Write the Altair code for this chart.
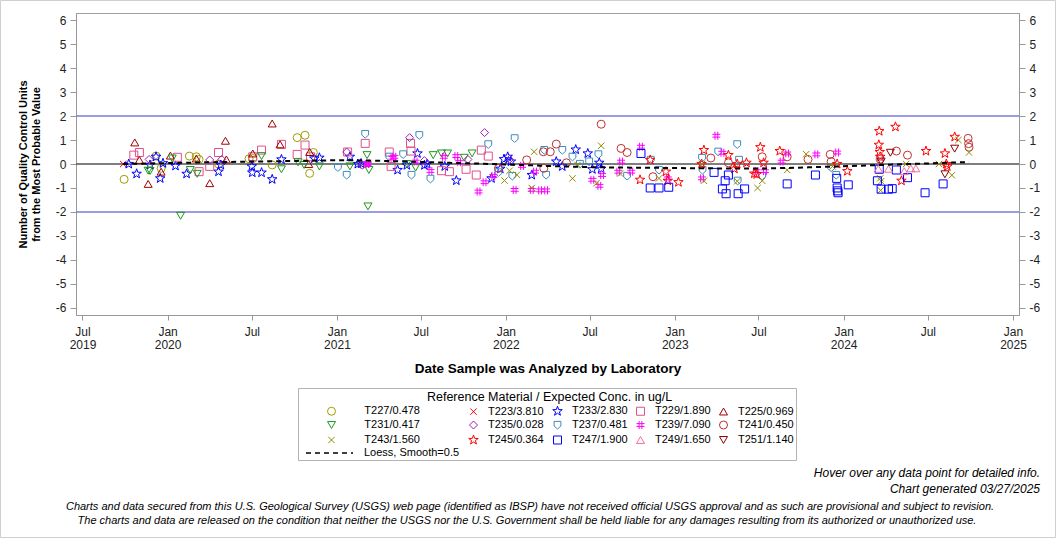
import altair as alt
import pandas as pd

# ---------------- data ----------------
# legend order (column by column, as in the reference legend)
series_order = ["T227/0.478", "T231/0.417", "T243/1.560",
                "T223/3.810", "T235/0.028", "T245/0.364",
                "T233/2.830", "T237/0.481", "T247/1.900",
                "T229/1.890", "T239/7.090", "T249/1.650",
                "T225/0.969", "T241/0.450", "T251/1.140"]

series_colors = ["#a39b00", "#1e961e", "#8c8c00",
                 "#ff0000", "#a020b0", "#ff0000",
                 "#0000ff", "#3c8cbe", "#0000ff",
                 "#e0508a", "#ff00ff", "#f070a0",
                 "#a00000", "#c03030", "#8b0000"]

dates_T227 = ["2019-09-29", "2019-12-07", "2019-12-18", "2020-02-17", "2020-03-03", "2020-03-09", "2020-04-20",
              "2020-06-25", "2020-07-03", "2020-08-14", "2020-10-07", "2020-10-24", "2020-11-03", "2020-11-11"]
vals_T227 = [-0.64, 0.33, -0.18, 0.33, 0.30, 0.19, 0.00, 0.22, 0.23, -0.04, 1.10, 1.20, -0.39, 0.48]

dates_T223 = ["2019-09-27"]
vals_T223 = [0.0]

dates_T233 = ["2019-10-09", "2019-10-26", "2019-11-24", "2019-12-07", "2019-12-16", "2019-12-22", "2020-01-18",
              "2020-02-11", "2020-04-20", "2020-04-25", "2020-07-01", "2020-07-02", "2020-07-22", "2020-08-14",
              "2020-09-03", "2020-11-13", "2020-11-24", "2021-01-29", "2021-02-15", "2021-02-22", "2021-05-12",
              "2021-06-01", "2021-06-24", "2021-07-09", "2021-07-15", "2021-08-22", "2021-09-16", "2021-12-01",
              "2021-12-20", "2021-12-28", "2022-01-05", "2022-01-12", "2022-02-26", "2022-04-20", "2022-05-03",
              "2022-06-01", "2022-06-27", "2022-07-07", "2022-07-22", "2022-07-26"]
vals_T233 = [0.00, -0.41, -0.04, 0.30, -0.60, 0.03, -0.08, -0.41, -0.32, -0.04, -0.10, -0.36, -0.36, -0.64,
             0.19, 0.23, 0.26, 0.30, 0.00, 0.02, -0.25, -0.05, 0.44, -0.05, 0.00, -0.10, -0.69, -0.60,
             -0.20, 0.20, 0.30, 0.10, -0.46, 0.10, -0.10, 0.60, 0.44, -0.22, 0.05, -0.20]

dates_T229 = ["2019-10-20", "2019-11-01", "2020-01-22", "2020-03-09", "2020-04-01", "2020-04-20", "2020-07-03",
              "2020-07-22", "2020-09-03", "2020-10-07", "2020-10-24", "2020-11-05", "2021-01-24", "2021-03-03",
              "2021-04-24", "2021-04-28", "2021-06-09", "2021-06-10", "2021-08-15", "2021-09-01", "2021-10-07",
              "2021-10-29", "2021-11-09", "2021-11-24"]
vals_T229 = [0.37, 0.48, 0.28, -0.32, -0.10, 0.48, 0.30, 0.58, 0.82, 0.40, 0.79, 0.30, 0.50, 0.86,
             0.50, -0.10, 0.86, 0.54, -0.28, -0.32, -0.22, -0.46, 0.58, 0.33]

dates_T225 = ["2019-10-22", "2019-11-01", "2019-11-20", "2019-12-18", "2020-01-07", "2020-03-03", "2020-04-01",
              "2020-05-05", "2020-05-07", "2020-07-03", "2020-08-14", "2020-08-31", "2020-11-01", "2020-11-03"]
vals_T225 = [0.90, 0.17, -0.83, -0.32, 0.35, 0.23, -0.80, 0.97, 0.19, 0.44, 1.69, 0.82, 0.00, 0.50]

dates_T231 = ["2019-11-20", "2019-11-24", "2020-01-11", "2020-01-29", "2020-02-19", "2020-03-05", "2020-07-22",
              "2020-09-03", "2020-10-09", "2020-10-22", "2020-11-24", "2021-01-29", "2021-03-07", "2021-03-09",
              "2021-03-11", "2021-06-01", "2021-06-20", "2021-07-28", "2021-08-15", "2021-08-28", "2021-10-03",
              "2021-10-20"]
vals_T231 = [-0.28, -0.29, 0.23, -2.16, -0.25, -0.41, 0.33, -0.22, 0.07, -0.04, -0.10, -0.10, 0.37, -1.77,
             -0.25, 0.00, -0.15, 0.37, 0.44, 0.44, 0.26, 0.44]

dates_T235 = ["2019-11-22", "2020-04-01", "2020-04-27", "2021-01-22", "2021-02-25", "2021-06-07", "2021-07-09",
              "2021-10-11", "2021-11-16", "2022-01-09"]
vals_T235 = [0.19, 0.17, 0.19, 0.50, -0.05, 1.10, 0.14, 0.19, 1.31, 0.19]

dates_T237 = ["2021-01-03", "2021-01-22", "2021-03-03", "2021-04-24", "2021-05-24", "2021-06-11", "2021-06-28",
              "2021-07-22", "2021-11-24", "2021-12-16", "2022-01-15", "2022-01-20", "2022-03-25", "2022-03-29",
              "2022-05-03", "2022-05-25", "2022-06-10", "2022-06-30", "2022-07-20", "2022-09-20", "2022-11-10",
              "2022-11-28", "2023-03-01", "2023-03-02", "2023-04-05", "2023-05-16", "2023-05-20", "2023-05-17",
              "2023-07-09", "2023-12-05", "2023-12-16"]
vals_T237 = [-0.14, -0.46, 1.25, 0.30, 0.40, -0.46, 1.20, -0.62, 0.82, -0.35, -0.50, 1.07, 0.58, -0.46,
             0.58, 0.30, 0.00, 0.10, 0.40, -0.50, 0.17, -0.25, 0.25, -0.25, 0.51, 0.82, 0.17, -0.70,
             -0.50, -0.15, -0.46]

dates_T239 = ["2021-03-07", "2021-03-09", "2021-05-01", "2021-05-05", "2021-06-20", "2021-07-22", "2021-08-20",
              "2021-09-16", "2021-09-22", "2021-11-03", "2021-11-16", "2021-12-05", "2022-01-20", "2022-02-05",
              "2022-02-26", "2022-03-05", "2022-03-16", "2022-03-29", "2022-07-07", "2022-07-22", "2022-07-28",
              "2022-09-01", "2022-09-07", "2022-09-29", "2022-10-20", "2022-12-17", "2023-03-01", "2023-04-01",
              "2023-04-14", "2023-06-27", "2023-07-15", "2023-08-20", "2023-09-01", "2023-11-03", "2023-12-18"]
vals_T239 = [0.00, 0.02, 0.26, 0.30, 0.10, -0.29, 0.30, 0.33, 0.08, -1.15, -0.76, -0.50, -1.08, -0.08,
             -1.08, -0.32, -1.10, -1.10, -0.66, -0.91, -0.46, -0.32, 0.10, -0.32, 0.72, -0.60, -0.60, 1.18,
             0.47, -0.30, -0.30, 0.10, 0.44, 0.40, 0.48]

dates_T241 = ["2021-12-16", "2022-02-15", "2022-03-23", "2022-03-24", "2022-04-07", "2022-04-20", "2022-05-12",
              "2022-07-26", "2022-09-07", "2022-09-20", "2022-11-15", "2023-03-20", "2023-04-27", "2023-07-09",
              "2023-09-01", "2023-10-16", "2023-12-03", "2023-12-05", "2024-03-20", "2024-04-24", "2024-05-18",
              "2024-09-26", "2024-09-27", "2024-09-28"]
vals_T241 = [-0.18, 0.17, 0.51, -0.18, 0.51, 0.83, 0.05, 1.66, 0.65, 0.48, -0.53, 0.25, 0.05, 0.30,
             0.30, 0.19, 0.40, 0.10, 0.20, 0.54, 0.37, 1.07, 0.85, 0.70]

dates_T243 = ["2021-12-29", "2022-01-09", "2022-01-25", "2022-02-26", "2022-03-03", "2022-05-25", "2022-06-05",
              "2022-07-16", "2022-07-26", "2022-09-05", "2022-11-28", "2023-03-01", "2023-03-05", "2023-05-16",
              "2023-06-29", "2023-07-09", "2023-09-01", "2023-10-12", "2023-12-08", "2024-03-20", "2024-03-22",
              "2024-03-21", "2024-05-15", "2024-07-25", "2024-08-22", "2024-09-05", "2024-09-28"]
vals_T243 = [-0.69, -0.28, -0.45, -1.00, 0.51, -0.60, -0.04, -0.80, 0.76, -0.40, -0.60, 0.00, -0.70, -0.72,
             -1.00, -0.70, -0.25, 0.41, -0.10, -0.60, -0.72, -1.10, 0.00, 0.00, -0.47, 1.00, 0.48]

dates_T245 = ["2022-10-18", "2022-11-09", "2022-12-13", "2022-12-17", "2023-01-09", "2023-02-28", "2023-03-05",
              "2023-04-27", "2023-05-10", "2023-05-16", "2023-06-05", "2023-06-22", "2023-06-27", "2023-07-05",
              "2023-07-12", "2023-08-16", "2023-12-18", "2024-01-09", "2024-03-18", "2024-03-17", "2024-03-19",
              "2024-03-20", "2024-04-22", "2024-05-05", "2024-06-27", "2024-08-07", "2024-08-10", "2024-08-12",
              "2024-08-28"]
vals_T245 = [-0.66, 0.17, -0.32, -0.70, -0.76, 0.00, 0.58, 0.37, -0.20, 0.00, 0.05, -0.40, -0.43, 0.70,
             0.05, 0.54, 0.00, -0.30, 1.37, 0.80, 0.50, 0.30, 1.55, -0.70, 0.54, 0.44, 0.00, -0.10, 1.13]

dates_T247 = ["2022-10-20", "2022-11-09", "2022-11-28", "2022-12-19", "2023-03-27", "2023-04-14", "2023-04-20",
              "2023-04-22", "2023-04-27", "2023-05-18", "2023-06-01", "2023-09-01", "2023-11-01", "2023-12-17",
              "2023-12-18", "2023-12-19", "2023-12-20", "2024-01-11", "2024-03-14", "2024-03-18", "2024-03-22",
              "2024-04-07", "2024-04-15", "2024-04-24", "2024-05-18", "2024-06-25", "2024-08-03"]
vals_T247 = [0.44, -1.00, -1.00, -0.97, -0.35, -1.04, -0.70, -1.24, -0.46, -1.24, -1.04, -0.83, -0.46, -0.60,
             -1.00, -1.12, -1.20, -0.87, -0.70, -0.22, -1.05, -1.05, -1.03, -0.25, -0.57, -1.20, -0.83]

dates_T249 = ["2024-03-16", "2024-03-20", "2024-04-07", "2024-05-11", "2024-05-25", "2024-06-05"]
vals_T249 = [-0.20, 0.30, -0.20, -0.30, -0.18, -0.18]

dates_T251 = ["2024-03-22", "2024-04-11", "2024-08-07", "2024-08-28"]
vals_T251 = [0.10, 0.47, -0.43, 0.64]

series_data = [
    ("T227/0.478", dates_T227, vals_T227), ("T223/3.810", dates_T223, vals_T223),
    ("T233/2.830", dates_T233, vals_T233), ("T229/1.890", dates_T229, vals_T229),
    ("T225/0.969", dates_T225, vals_T225), ("T231/0.417", dates_T231, vals_T231),
    ("T235/0.028", dates_T235, vals_T235), ("T237/0.481", dates_T237, vals_T237),
    ("T239/7.090", dates_T239, vals_T239), ("T241/0.450", dates_T241, vals_T241),
    ("T243/1.560", dates_T243, vals_T243), ("T245/0.364", dates_T245, vals_T245),
    ("T247/1.900", dates_T247, vals_T247), ("T249/1.650", dates_T249, vals_T249),
    ("T251/1.140", dates_T251, vals_T251),
]

STAR = ("M0,-1.25L0.294,-0.405L1.189,-0.386L0.475,0.155L0.735,1.011L0,0.5L-0.735,1.011"
        "L-0.475,0.155L-1.189,-0.386L-0.294,-0.405Z")
XMARK = "M-0.8,-0.8L0.8,0.8M-0.8,0.8L0.8,-0.8"
HASH = "M-0.35,-1L-0.35,1M0.35,-1L0.35,1M-1,-0.35L1,-0.35M-1,0.35L1,0.35"
SHIELD = "M-0.85,-0.9L0.85,-0.9L0.85,0.25L0,1L-0.85,0.25Z"
series_shapes = ["circle", "triangle-down", XMARK,
                 XMARK, "diamond", STAR,
                 STAR, SHIELD, "square",
                 "square", HASH, "triangle-up",
                 "triangle-up", "circle", "triangle-down"]

first_column = ["T227/0.478", "T231/0.417", "T243/1.560"]

x_ticks = ["2019-07-01", "2020-01-01", "2020-07-01", "2021-01-01", "2021-07-01", "2022-01-01",
           "2022-07-01", "2023-01-01", "2023-07-01", "2024-01-01", "2024-07-01", "2025-01-01"]
x_domain = ["2019-06-17", "2025-01-14"]
y_ticks = [-6, -5, -4, -3, -2, -1, 0, 1, 2, 3, 4, 5, 6]
y_domain = [-6.3, 6.3]
limit_lines = [-2, 2]
center_line = [0]

# ---------------- build tables ----------------
def to_ms(d):
    return int(pd.Timestamp(d, tz="UTC").value // 10**6)

rows = []
for lab, ds, vs in series_data:
    for d, v in zip(ds, vs):
        rows.append({"series": lab, "t": to_ms(d), "value": v})
df = pd.DataFrame(rows)

FONT = "Arial, Liberation Sans, sans-serif"
W, H = 943, 302

xscale = alt.Scale(type="utc", domain=[to_ms(d) for d in x_domain], nice=False)
yscale = alt.Scale(domain=y_domain, nice=False, zero=False)

x_label_expr = ("utcmonth(datum.value) == 0 ? ['Jan', '' + utcyear(datum.value)] : "
                "(utcyear(datum.value) == 2019 ? ['Jul', '2019'] : ['Jul', ''])")

x_axis = alt.Axis(values=[to_ms(d) for d in x_ticks], labelExpr=x_label_expr, grid=False,
                  tickSize=5, labelPadding=6, labelFontSize=12, labelLineHeight=13,
                  labelColor="#222", tickColor="#999", domainColor="#999",
                  title="Date Sample was Analyzed by Laboratory", titleFontSize=13.5,
                  titleFontWeight="bold", titlePadding=11, titleColor="#000")
y_axis_left = alt.Axis(values=y_ticks, labelExpr="'' + datum.value", grid=False, tickSize=6,
                       labelPadding=4, labelFontSize=12, labelColor="#222", tickColor="#999",
                       domainColor="#999",
                       title=["Number of Quality Control Units", "from the Most Probable Value"],
                       titleFontSize=11, titleFontWeight="bold", titlePadding=14, titleColor="#000",
                       titleLineHeight=13)
y_axis_right = alt.Axis(values=y_ticks, labelExpr="'' + datum.value", grid=False, tickSize=6,
                        labelPadding=4, labelFontSize=12, labelColor="#222", tickColor="#999",
                        domainColor="#999", orient="right", title=None)

# Vega trims label text, so the no-break spaces that widen the first legend column
# are wrapped in zero-width (non-whitespace) characters.
NB = "\u00a0"
ZW = "\u200b"
first_col_test = " || ".join("datum.label == '%s'" % s for s in first_column)
legend_label_expr = ("(" + first_col_test + ") ? '" + ZW + NB * 6 + "' + datum.label + '"
                     + NB * 13 + ZW + "' : datum.label")
legend_title = "Reference Material / Expected Conc. in ug/L" + NB * 6 + ZW
main_legend = alt.Legend(orient="none", legendX=250, legendY=378, columns=5,
                         title=legend_title, titleAnchor="middle",
                         titleFontWeight="normal", titleFontSize=12.5, titlePadding=2, titleColor="#000",
                         titleLimit=600, labelLimit=400,
                         labelFontSize=11, labelColor="#000", labelOffset=9, symbolSize=64,
                         symbolStrokeWidth=1, rowPadding=1, columnPadding=6, padding=0,
                         labelExpr=legend_label_expr)

# ---------------- layers ----------------
frame = alt.Chart(pd.DataFrame({"k": [0]})).mark_rect(
    fill=None, stroke="#cfcfcf", strokeWidth=1
).encode(x=alt.value(-75.5), x2=alt.value(W + 36.5), y=alt.value(-12.5), y2=alt.value(H + 222.5))

legend_box = alt.Chart(pd.DataFrame({"k": [0]})).mark_rect(
    fill=None, stroke="#b4b4b4", strokeWidth=1
).encode(x=alt.value(222.5), x2=alt.value(720.5), y=alt.value(375.5), y2=alt.value(447.5))

limits = alt.Chart(pd.DataFrame({"y": limit_lines})).mark_rule(
    color="#7b7bdc", strokeWidth=1.6
).encode(y=alt.Y("y:Q", scale=yscale, axis=y_axis_right))

zero = alt.Chart(pd.DataFrame({"y": center_line})).mark_rule(
    color="#555555", strokeWidth=1.6
).encode(y=alt.Y("y:Q", scale=yscale, axis=None))

points = alt.Chart(df).mark_point(filled=False, size=64, strokeWidth=1, opacity=1).encode(
    x=alt.X("t:T", scale=xscale, axis=x_axis),
    y=alt.Y("value:Q", scale=yscale, axis=y_axis_left),
    color=alt.Color("series:N", scale=alt.Scale(domain=series_order, range=series_colors),
                    legend=main_legend),
    shape=alt.Shape("series:N", scale=alt.Scale(domain=series_order, range=series_shapes),
                    legend=main_legend),
)

loess = alt.Chart(df).transform_loess(
    "t", "value", bandwidth=0.5
).transform_calculate(
    kind="'Loess, Smooth=0.5'"
).mark_line(color="black", strokeWidth=2).encode(
    x=alt.X("t:T", scale=xscale, axis=x_axis),
    y=alt.Y("value:Q", scale=yscale, axis=None),
    strokeDash=alt.StrokeDash("kind:N", scale=alt.Scale(domain=["Loess, Smooth=0.5"], range=[[5, 4]]),
                              legend=alt.Legend(orient="none", legendX=229, legendY=415.5, title=None,
                                                symbolType="stroke", symbolSize=2209,
                                                symbolStrokeWidth=1.5, symbolStrokeColor="black",
                                                symbolDash=[4, 3], labelFontSize=11, labelColor="#000",
                                                labelOffset=10, padding=0)),
)

def note(txt, x, y, align, size):
    return alt.Chart(pd.DataFrame({"k": [0]})).mark_text(
        align=align, baseline="middle", font="Liberation Sans, Arial, sans-serif",
        fontStyle="italic", fontSize=size, color="#000"
    ).encode(x=alt.value(x), y=alt.value(y), text=alt.value(txt))

notes = [
    note("Hover over any data point for detailed info.", 964, 460, "right", 12),
    note("Chart generated 03/27/2025", 964, 476, "right", 12),
    note("Charts and data secured from this U.S. Geological Survey (USGS) web page (identified as IBSP) have not "
         "received official USGS approval and as such are provisional and subject to revision.", 454, 494, "center", 11),
    note("The charts and data are released on the condition that neither the USGS nor the U.S. Government shall be "
         "held liable for any damages resulting from its authorized or unauthorized use.", 451, 508, "center", 11),
]

chart = alt.layer(frame, legend_box, limits, zero, points, loess, *notes).resolve_axis(
    y="independent"
).properties(
    width=W, height=H,
    autosize=alt.AutoSizeParams(type="none"),
    padding={"left": 76, "top": 13, "right": 1056 - 76 - W, "bottom": 538 - 13 - H},
).configure(font=FONT).configure_view(stroke="#a0a0a0", strokeWidth=1).configure_legend(
    labelFont=FONT, titleFont=FONT
)

chart.save("out.html", embed_options={"renderer": "svg", "actions": False})
